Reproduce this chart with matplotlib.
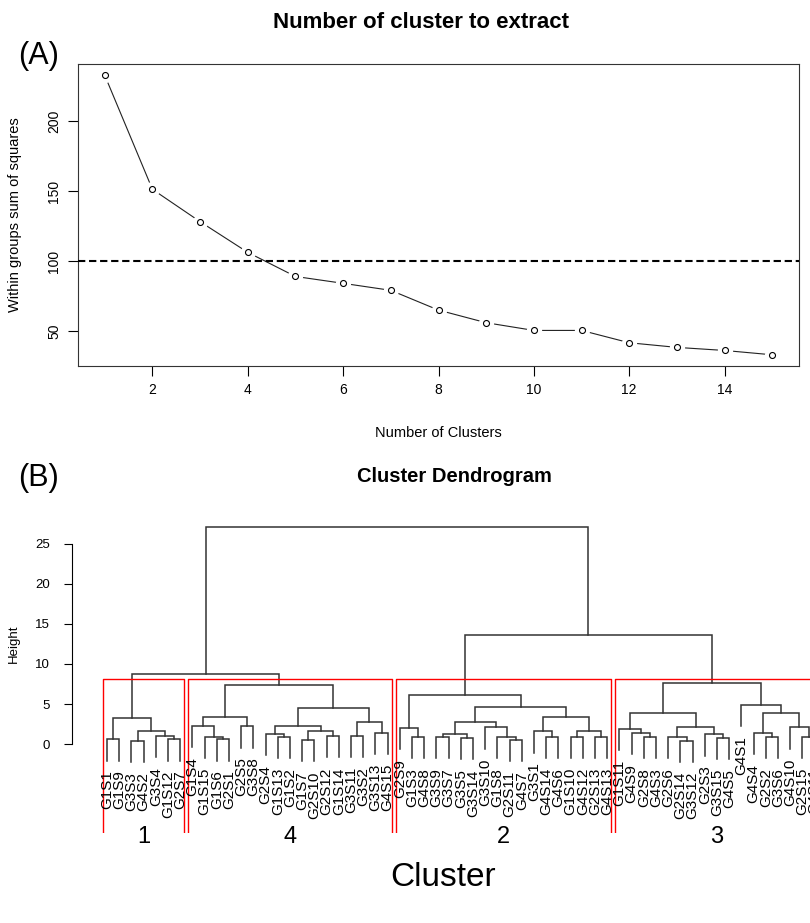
import numpy as np
import matplotlib
matplotlib.use("Agg")
import matplotlib.pyplot as plt

plt.rcParams['font.family'] = ['Liberation Sans', 'DejaVu Sans']

# within-groups sum of squares for k = 1..15
n_clusters = np.arange(1, 16)
wss = [232.6, 151.2, 128.1, 106.2, 89.0, 84.1, 79.1, 65.0,
       56.0, 50.5, 50.5, 41.7, 38.4, 36.2, 33.1]
wss_cutoff = 100

# dendrogram branches as (left, right, merge height), leaves are sample names
clust_1 = (("G1S1", "G1S9", 0.6),
           (("G3S3", "G4S2", 0.4), ("G3S4", ("G1S12", "G2S7", 0.6), 1.0), 1.6),
           3.2)
clust_4 = ((("G1S4", ("G1S15", ("G1S6", "G2S1", 0.6), 0.9), 2.25), ("G2S5", "G3S8", 2.2), 3.4),
           ((("G2S4", ("G1S13", "G1S2", 0.9), 1.25),
             (("G1S7", "G2S10", 0.5), ("G2S12", "G1S14", 1.0), 1.6), 2.25),
            (("G3S11", "G3S2", 1.0), ("G3S13", "G4S15", 1.4), 2.75), 4.5),
           7.4)
clust_2 = (("G2S9", ("G1S3", "G4S8", 0.9), 2.0),
           (((("G3S9", "G3S7", 0.9), ("G3S5", "G3S14", 0.75), 1.25),
             ("G3S10", ("G1S8", ("G2S11", "G4S7", 0.5), 0.9), 2.1), 2.75),
            (("G3S1", ("G4S14", "G4S6", 0.9), 1.6),
             (("G1S10", "G4S12", 0.9), ("G2S13", "G4S13", 0.9), 1.6), 3.35), 4.6),
           6.1)
clust_3 = ((("G1S11", ("G4S9", ("G2S8", "G4S3", 0.9), 1.4), 1.9),
            (("G2S6", ("G2S14", "G3S12", 0.4), 0.9), ("G2S3", ("G3S15", "G4S5", 0.8), 1.2), 2.1), 3.85),
           ("G4S1", (("G4S4", ("G2S2", "G3S6", 0.9), 1.4),
                     ("G4S10", ("G2S15", "G4S11", 0.9), 2.1), 3.9), 4.9),
           7.6)
join_14 = 8.75
join_23 = 13.6
root_height = 27.1
cluster_names = ["1", "4", "2", "3"]

tree = ((clust_1, clust_4, join_14), (clust_2, clust_3, join_23), root_height)
groups = [clust_1, clust_4, clust_2, clust_3]


def tree_heights(node):
    if isinstance(node, str):
        return []
    return tree_heights(node[0]) + tree_heights(node[1]) + [node[2]]


def n_leaves(node):
    if isinstance(node, str):
        return 1
    return n_leaves(node[0]) + n_leaves(node[1])


def draw_node(ax, node, pos, hang, color="#333333"):
    """Draw one branch, leaves are numbered from pos[0]. Returns (x, height)."""
    if isinstance(node, str):
        x = pos[0]
        pos[0] += 1
        return x, None
    h = node[2]
    xl, hl = draw_node(ax, node[0], pos, hang, color)
    xr, hr = draw_node(ax, node[1], pos, hang, color)
    bottoms = []
    for child, xc, hc in ((node[0], xl, hl), (node[1], xr, hr)):
        if hc is None:
            hc = h - hang
            ax.annotate(child, xy=(xc, hc), xytext=(0, -7), textcoords="offset points",
                        rotation=90, ha="center", va="top", fontsize=11)
        bottoms.append(hc)
    ax.plot([xl, xl, xr, xr], [bottoms[0], h, h, bottoms[1]], color=color, lw=1.1,
            solid_joinstyle="miter")
    return (xl + xr) / 2.0, h


fig = plt.figure(figsize=(8.1, 9.23), dpi=100)

# ---- (A) elbow plot
ax1 = fig.add_axes([78 / 810, 557 / 923, 721 / 810, 302 / 923])
ax1.plot(n_clusters, wss, color="#222222", lw=0.8, zorder=1)
ax1.plot(n_clusters, wss, "o", ms=11, color="white", mec="none", zorder=2)
ax1.plot(n_clusters, wss, "o", ms=4.3, mfc="white", mec="black", mew=0.8, zorder=3)
ax1.axhline(wss_cutoff, color="black", lw=1.5, ls=(0, (3.5, 1.8)), zorder=4)

xr = n_clusters.max() - n_clusters.min()
yr = max(wss) - min(wss)
ax1.set_xlim(n_clusters.min() - 0.04 * xr, n_clusters.max() + 0.04 * xr)
ax1.set_ylim(min(wss) - 0.04 * yr, max(wss) + 0.04 * yr)
ax1.set_xticks(range(2, 15, 2))
ax1.set_yticks([50, 100, 150, 200])
ax1.tick_params(direction="out", length=7, width=0.8, labelsize=10, pad=5)
for lab in ax1.get_yticklabels():
    lab.set_rotation(90)
    lab.set_va("center")
for sp in ax1.spines.values():
    sp.set_linewidth(0.8)
    sp.set_color("#333333")

fig.text(421 / 810, 1 - 22 / 923, "Number of cluster to extract", weight="bold",
         size=16, ha="center", va="center")
fig.text(438 / 810, 1 - 433 / 923, "Number of Clusters", size=10.5, ha="center", va="center")
fig.text(15 / 810, 1 - 215 / 923, "Within groups sum of squares", size=10.5,
         rotation=90, ha="center", va="center")
fig.text(18 / 810, 1 - 56 / 923, "(A)", size=22, ha="left", va="center")

# ---- (B) dendrogram
ax2 = fig.add_axes([72 / 810, 90 / 923, 778 / 810, 318 / 923])
heights = sorted(tree_heights(tree), reverse=True)
hang = 0.1 * (heights[0] - heights[-1])
draw_node(ax2, tree, [1], hang)

ax2.set_xlim(-1.87, 61.9)
ax2.set_ylim(-11.1, 28.6)
ybot = ax2.get_ylim()[0]

# red boxes around the four clusters cut from the tree (open at the bottom)
k = len(groups)
cut = np.mean(heights[k - 2:k])
start = 1
for grp, name in zip(groups, cluster_names):
    n = n_leaves(grp)
    end = start + n - 1
    x0, x1 = start - 0.34, end + 0.33
    ax2.plot([x0, x0, x1, x1], [ybot, cut, cut, ybot], color="red", lw=1.0)
    ax2.annotate(name, xy=((start + end) / 2.0, 0), xycoords=("data", "axes fraction"),
                 xytext=(0, -3), textcoords="offset points", ha="center", va="center",
                 fontsize=17, annotation_clip=False)
    start = end + 1

for s in ["top", "right", "bottom"]:
    ax2.spines[s].set_visible(False)
ax2.spines["left"].set_bounds(0, 25)
ax2.spines["left"].set_linewidth(0.8)
ax2.set_xticks([])
ax2.set_yticks(range(0, 26, 5))
ax2.tick_params(axis="y", direction="out", length=6, width=0.8, labelsize=9.5, pad=10)

fig.text(454 / 810, 1 - 476 / 923, "Cluster Dendrogram", weight="bold", size=14.5,
         ha="center", va="center")
fig.text(14 / 810, 1 - 644 / 923, "Height", size=9.5, rotation=90, ha="center", va="center")
fig.text(18 / 810, 1 - 478 / 923, "(B)", size=22, ha="left", va="center")
fig.text(443 / 810, 1 - 877 / 923, "Cluster", size=24, ha="center", va="center")

fig.savefig("out.png", dpi=100)
